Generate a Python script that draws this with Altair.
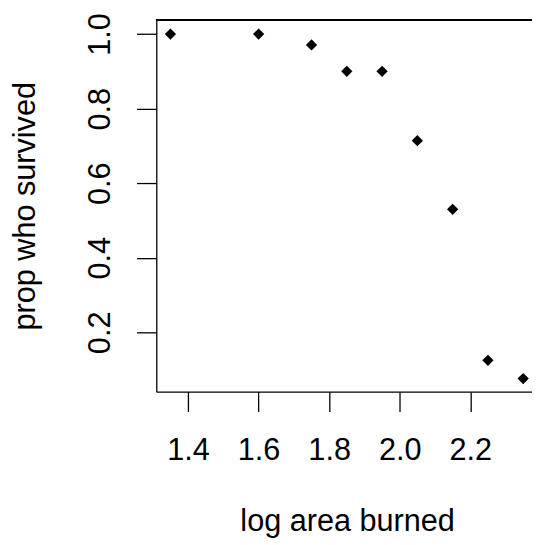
import altair as alt
import pandas as pd

log_area = [1.35, 1.60, 1.75, 1.85, 1.95, 2.05, 2.15, 2.25, 2.35]
prop_survived = [1.0, 1.0, 0.971, 0.90, 0.90, 0.714, 0.53, 0.125, 0.076]
x_ticks = [1.4, 1.6, 1.8, 2.0, 2.2]
y_ticks = [0.2, 0.4, 0.6, 0.8, 1.0]

df = pd.DataFrame({"x": log_area, "y": prop_survived})

FONT = "Liberation Sans"
FS = 31
W, H = 380, 376

x_enc = alt.X(
    "x:Q",
    scale=alt.Scale(domain=[1.31, 2.375], nice=False, zero=False),
    axis=alt.Axis(
        values=x_ticks, format=".1f", title="log area burned",
        tickSize=20, tickWidth=1.3, tickColor="black",
        domainColor="black", domainWidth=1.3,
        labelFont=FONT, labelFontSize=FS, labelColor="black",
        labelBaseline="alphabetic", labelPadding=49, labelFlush=False,
        labelOverlap=False,
        titleFont=FONT, titleFontSize=FS, titleFontWeight="normal", titleColor="black",
        titleX=193, titleY=140, titleBaseline="alphabetic", titleAlign="center",
        grid=False,
    ),
)
y_enc = alt.Y(
    "y:Q",
    scale=alt.Scale(domain=[0.041, 1.038], nice=False, zero=False),
    axis=alt.Axis(
        values=y_ticks, format=".1f", title="prop who survived",
        tickSize=20, tickWidth=1.3, tickColor="black",
        domainColor="black", domainWidth=1.3,
        labelFont=FONT, labelFontSize=FS, labelColor="black",
        labelAngle=270, labelAlign="center", labelBaseline="alphabetic",
        labelPadding=27, labelFlush=False, labelOverlap=False,
        titleFont=FONT, titleFontSize=FS, titleFontWeight="normal", titleColor="black",
        titleAngle=270, titleX=-123, titleY=188, titleBaseline="alphabetic",
        titleAlign="center",
        grid=False,
    ),
)

points = alt.Chart(df).mark_point(
    shape="diamond", filled=True, color="black", size=130, opacity=1
).encode(x=x_enc, y=y_enc)

top_border = alt.Chart(df).mark_rule(color="black", strokeWidth=1.3).encode(
    x=alt.value(0), x2=alt.value(W), y=alt.value(0)
)

chart = alt.layer(points, top_border).properties(
    width=W, height=H,
    autosize=alt.AutoSizeParams(type="none"),
    padding={"left": 150, "top": 9, "right": 0, "bottom": 147},
).configure_view(stroke=None)

chart.save("out.html", embed_options={"renderer": "svg", "actions": False})
